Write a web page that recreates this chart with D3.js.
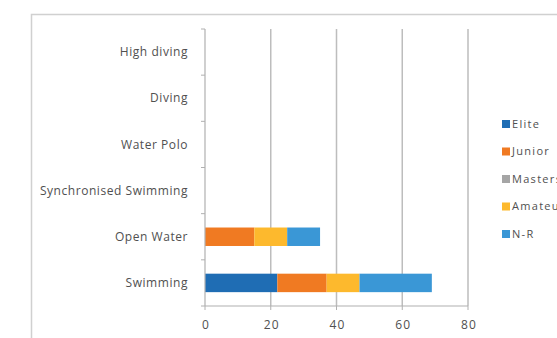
<!DOCTYPE html>
<html><head><meta charset="utf-8">
<script src="https://cdn.jsdelivr.net/npm/d3@7"></script>
<style>body{margin:0;background:#fff;overflow:hidden}svg{display:block}text{font-family:"Open Sans",sans-serif;fill:#505050}</style>
</head><body>
<svg id="c" width="557" height="338"></svg>
<script>
const categories = ["High diving","Diving","Water Polo","Synchronised Swimming","Open Water","Swimming"];
const seriesNames = ["Elite","Junior","Masters","Amateur","N-R"];
const elite   = [0,0,0,0,0,22];
const junior  = [0,0,0,0,15,15];
const masters = [0,0,0,0,0,0];
const amateur = [0,0,0,0,10,10];
const nr      = [0,0,0,0,10,22];
const xTicks = [0,20,40,60,80];
const colors = ["#1f6db4","#f07a22","#a5a5a5","#fdb92d","#3a97d6"];

(function(){
const svg = d3.select("#c");
svg.append("rect").attr("x",31.5).attr("y",14.5).attr("width",600).attr("height",400)
  .attr("fill","none").attr("stroke","#d0d0d0").attr("stroke-width",1.5);

const pL=205, pR=468, pT=29, pB=306;
const x = d3.scaleLinear().domain([0,80]).range([pL,pR]);
const y = d3.scaleBand().domain(categories).range([pT,pB]).paddingInner(0.6).paddingOuter(0.3);
const yb = d3.scaleBand().domain(categories).range([pT,pB]);

svg.append("g").selectAll("line").data(xTicks.slice(1)).join("line")
  .attr("x1",d=>x(d)).attr("x2",d=>x(d)).attr("y1",pT).attr("y2",pB)
  .attr("stroke","#bdbdbd").attr("stroke-width",1.5);

const table = categories.map((c,i)=>({cat:c,Elite:elite[i],Junior:junior[i],Masters:masters[i],Amateur:amateur[i],"N-R":nr[i]}));
const stack = d3.stack().keys(seriesNames)(table);
svg.append("g").selectAll("g").data(stack).join("g").attr("fill",(d,i)=>colors[i])
  .selectAll("rect").data(d=>d).join("rect")
  .attr("x",d=>x(d[0])).attr("width",d=>x(d[1])-x(d[0]))
  .attr("y",d=>y(d.data.cat)).attr("height",y.bandwidth());

const ya = svg.append("g").attr("transform",`translate(${pL},0)`);
ya.append("line").attr("x1",0).attr("x2",0).attr("y1",pT).attr("y2",pB).attr("stroke","#b0b0b0").attr("stroke-width",1.2);
const bounds = categories.map(c=>yb(c)).concat([pB]);
ya.selectAll("line.t").data(bounds).join("line").attr("class","t")
  .attr("x1",-4).attr("x2",0).attr("y1",d=>d).attr("y2",d=>d).attr("stroke","#b0b0b0");
ya.selectAll("text").data(categories).join("text")
  .attr("x",-17).attr("y",d=>yb(d)+yb.bandwidth()/2).attr("dy","0.35em")
  .attr("text-anchor","end").attr("font-size",12).attr("letter-spacing",0.55).text(d=>d);

const xa = svg.append("g");
xa.append("line").attr("x1",pL).attr("x2",pR).attr("y1",pB).attr("y2",pB).attr("stroke","#b0b0b0").attr("stroke-width",1.2);
xa.selectAll("line.t").data(xTicks).join("line").attr("class","t")
  .attr("x1",d=>x(d)).attr("x2",d=>x(d)).attr("y1",pB).attr("y2",pB+4).attr("stroke","#b0b0b0");
xa.selectAll("text").data(xTicks).join("text")
  .attr("x",d=>x(d)+1).attr("y",325).attr("dy","0.35em").attr("text-anchor","middle")
  .attr("font-size",12).attr("letter-spacing",1.2).text(d=>d);

const lg = svg.append("g").attr("transform","translate(502,124)");
const li = lg.selectAll("g").data(seriesNames).join("g").attr("transform",(d,i)=>`translate(0,${i*27.5})`);
li.append("rect").attr("x",0).attr("y",-4).attr("width",8).attr("height",8).attr("fill",(d,i)=>colors[i]);
li.append("text").attr("x",10).attr("y",0).attr("dy","0.35em").attr("font-size",11).attr("letter-spacing",1.3)
  .text(d=>d);
})();
</script>
</body></html>
